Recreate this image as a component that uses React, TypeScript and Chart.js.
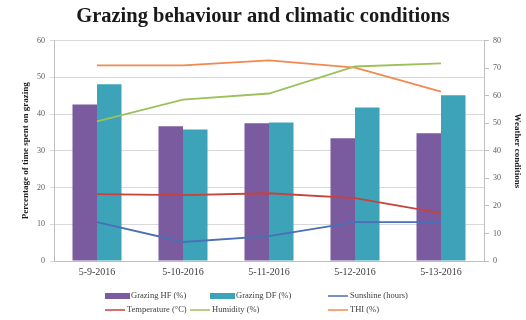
import React, { useEffect, useRef } from "react";
import { Chart, registerables } from "chart.js";

Chart.register(...registerables);

const categories = ["5-9-2016", "5-10-2016", "5-11-2016", "5-12-2016", "5-13-2016"];
const grazingHF = [42.6, 36.7, 37.5, 33.4, 34.8];
const grazingDF = [48.1, 35.8, 37.7, 41.8, 45.1];
const sunshine = [14.1, 6.9, 9.0, 14.1, 14.1];
const temperature = [24.3, 23.9, 24.6, 22.8, 17.4];
const humidity = [50.7, 58.6, 60.8, 70.6, 71.7];
const thi = [71.0, 71.0, 72.8, 70.2, 61.5];

const leftMin = 0;
const leftMax = 60;
const leftStep = 10;
const rightMin = 0;
const rightMax = 80;
const rightStep = 10;

const SERIF = "'Liberation Serif', 'Times New Roman', serif";

const legendPlugin = {
  id: "gridLegend",
  afterDraw(chart: any) {
    const ctx = chart.ctx;
    const pos = [
      [105, 296], [210, 296], [328, 296],
      [105, 310], [190, 310], [328, 310],
    ];
    ctx.save();
    ctx.font = `8.5px ${SERIF}`;
    ctx.textBaseline = "middle";
    ctx.textAlign = "left";
    chart.data.datasets.forEach((ds: any, i: number) => {
      const [x, y] = pos[i];
      let tx;
      if (ds.type === "bar") {
        ctx.fillStyle = ds.backgroundColor;
        ctx.fillRect(x, y - 3, 25, 6);
        tx = x + 26;
      } else {
        ctx.strokeStyle = ds.borderColor;
        ctx.lineWidth = 1.5;
        ctx.beginPath();
        ctx.moveTo(x, y);
        ctx.lineTo(x + 20, y);
        ctx.stroke();
        tx = x + 22;
      }
      ctx.fillStyle = "#404040";
      ctx.fillText(ds.label, tx, y);
    });
    ctx.restore();
  },
};

export default function App() {
  const ref = useRef<HTMLCanvasElement>(null);
  useEffect(() => {
    if (!ref.current) return;
    const lineDs = (label: string, data: number[], color: string) => ({
      type: "line" as const,
      label,
      data,
      borderColor: color,
      backgroundColor: color,
      borderWidth: 1.8,
      pointRadius: 0,
      tension: 0,
      yAxisID: "y1",
      order: 1,
    });
    const chart = new Chart(ref.current, {
      type: "bar",
      data: {
        labels: categories,
        datasets: [
          { type: "bar", label: "Grazing HF (%)", data: grazingHF, backgroundColor: "#7B5B9F", yAxisID: "y", order: 2, barPercentage: 1, categoryPercentage: 0.57 },
          { type: "bar", label: "Grazing DF (%)", data: grazingDF, backgroundColor: "#3DA3B9", yAxisID: "y", order: 2, barPercentage: 1, categoryPercentage: 0.57 },
          lineDs("Sunshine (hours)", sunshine, "#4A6FB5"),
          lineDs("Temperature (°C)", temperature, "#C8423C"),
          lineDs("Humidity (%)", humidity, "#9DC15A"),
          lineDs("THI (%)", thi, "#F2894F"),
        ] as any,
      },
      options: {
        responsive: false,
        animation: false,
        layout: { padding: { top: 0, bottom: 37, left: 0, right: 0 } },
        plugins: {
          legend: { display: false },
          tooltip: { enabled: false },
          title: {
            display: true,
            text: "Grazing behaviour and climatic conditions",
            font: { family: SERIF, size: 20.5, weight: "bold" },
            color: "#1a1a1a",
            padding: { top: 4, bottom: 12 },
          },
        },
        scales: {
          x: {
            grid: { display: false, drawTicks: false },
            border: { color: "#bfbfbf" },
            ticks: { font: { family: SERIF, size: 10 }, color: "#404040", padding: 5 },
          },
          y: {
            position: "left",
            min: leftMin,
            max: leftMax,
            ticks: { stepSize: leftStep, font: { family: SERIF, size: 8 }, color: "#595959", padding: 5 },
            grid: { color: "#d9d9d9", tickLength: 4 },
            border: { color: "#bfbfbf" },
            title: {
              display: true,
              text: "Percentage of time spent on grazing",
              font: { family: SERIF, size: 9, weight: "bold" },
              color: "#1a1a1a",
              padding: { top: 20, bottom: 0 },
            },
            afterFit(scale: any) { scale.width = 54; },
          },
          y1: {
            position: "right",
            min: rightMin,
            max: rightMax,
            ticks: { stepSize: rightStep, font: { family: SERIF, size: 8 }, color: "#595959", padding: 4 },
            grid: { drawOnChartArea: false, color: "#bfbfbf", tickLength: 5 },
            border: { color: "#bfbfbf" },
            title: {
              display: true,
              text: "Weather conditions",
              font: { family: SERIF, size: 9, weight: "bold" },
              color: "#1a1a1a",
              padding: { top: 3, bottom: 0 },
            },
            afterFit(scale: any) { scale.width = 42; },
          },
        },
      } as any,
      plugins: [legendPlugin],
    });
    return () => chart.destroy();
  }, []);
  return (
    <div style={{ position: "fixed", left: 0, top: 0, width: 526, height: 320, background: "#fff" }}>
      <canvas ref={ref} width={526} height={320} />
    </div>
  );
}
